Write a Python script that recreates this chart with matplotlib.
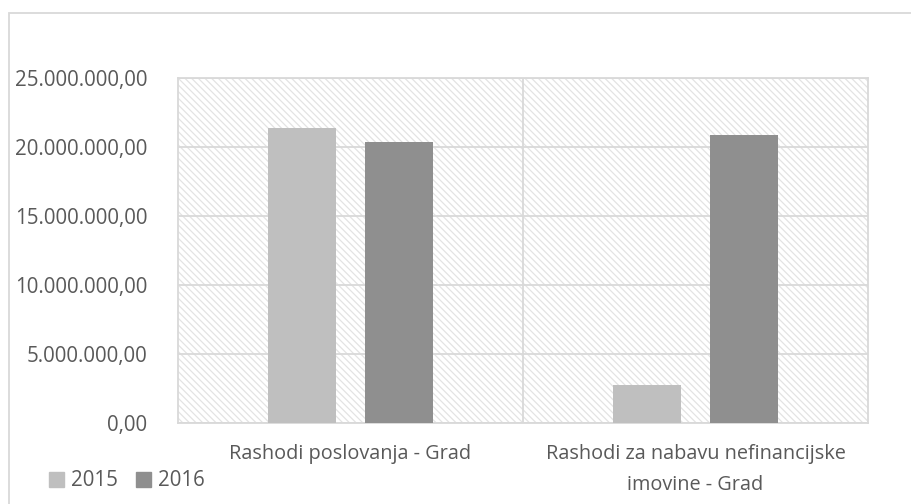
import matplotlib.pyplot as plt
import matplotlib.patches as mpatches
import matplotlib.ticker as mticker
import numpy as np

# ---------- data ----------
categories = ["Rashodi poslovanja - Grad",
              "Rashodi za nabavu nefinancijske\nimovine - Grad"]
series = ["2015", "2016"]
values_2015 = [21400000, 2750000]
values_2016 = [20380000, 20900000]
colors = ["#bfbfbf", "#8f8f8f"]

plt.rcParams["font.family"] = ["Open Sans", "DejaVu Sans"]
plt.rcParams["hatch.color"] = "#e3e3e3"
plt.rcParams["hatch.linewidth"] = 0.9
txt = "#595959"
grid = "#d9d9d9"

fig = plt.figure(figsize=(9.12, 5.04), dpi=100, facecolor="white")

# outer chart border (only left/top edges visible)
fig.patches.append(mpatches.Rectangle((9 / 912, -0.1), 1.1, 1 - 13 / 504 + 0.1,
                                      transform=fig.transFigure, fill=False,
                                      edgecolor=grid, linewidth=1.3))

ax = fig.add_axes([178 / 912, 81 / 504, 690 / 912, 345 / 504])
ax.set_facecolor("white")

# hatched plot area
ax.add_patch(mpatches.Rectangle((0, 0), 1, 1, transform=ax.transAxes,
                                facecolor="white", edgecolor="#e3e3e3",
                                hatch="\\\\\\\\\\", linewidth=0, zorder=0))

x = np.arange(len(categories))
w = 0.197
off = 0.141
ax.bar(x - off, values_2015, w, color=colors[0], label=series[0], zorder=3)
ax.bar(x + off, values_2016, w, color=colors[1], label=series[1], zorder=3)

ax.set_xlim(-0.5, 1.5)
ax.set_ylim(0, 25000000)
ax.yaxis.set_major_locator(mticker.MultipleLocator(5000000))
ax.yaxis.set_major_formatter(mticker.FuncFormatter(
    lambda v, p: f"{v:,.2f}".replace(",", "X").replace(".", ",").replace("X", ".")))
ax.yaxis.grid(True, color=grid, linewidth=1.3, zorder=1)
ax.set_axisbelow(True)
ax.axvline(0.5, color=grid, linewidth=1.3, zorder=1)

ax.set_xticks(x)
ax.set_xticklabels(categories, fontsize=14.3, color=txt, linespacing=1.75)
ax.tick_params(axis="x", length=0, pad=15)
ax.tick_params(axis="y", length=0, pad=22, labelsize=14.8, labelcolor=txt)

for s in ["top", "right", "left", "bottom"]:
    ax.spines[s].set_color(grid)
    ax.spines[s].set_linewidth(1.3)

handles = [mpatches.Patch(color=c, label=s) for c, s in zip(colors, series)]
fig.legend(handles=handles, ncol=2, loc="center left",
           bbox_to_anchor=(49 / 912, 1 - 481 / 504), frameon=False,
           fontsize=14.8, labelcolor=txt, handlelength=0.75, handleheight=0.75,
           handletextpad=0.3, columnspacing=0.9, borderpad=0, borderaxespad=0)

fig.savefig("out.png", dpi=100, facecolor="white")
